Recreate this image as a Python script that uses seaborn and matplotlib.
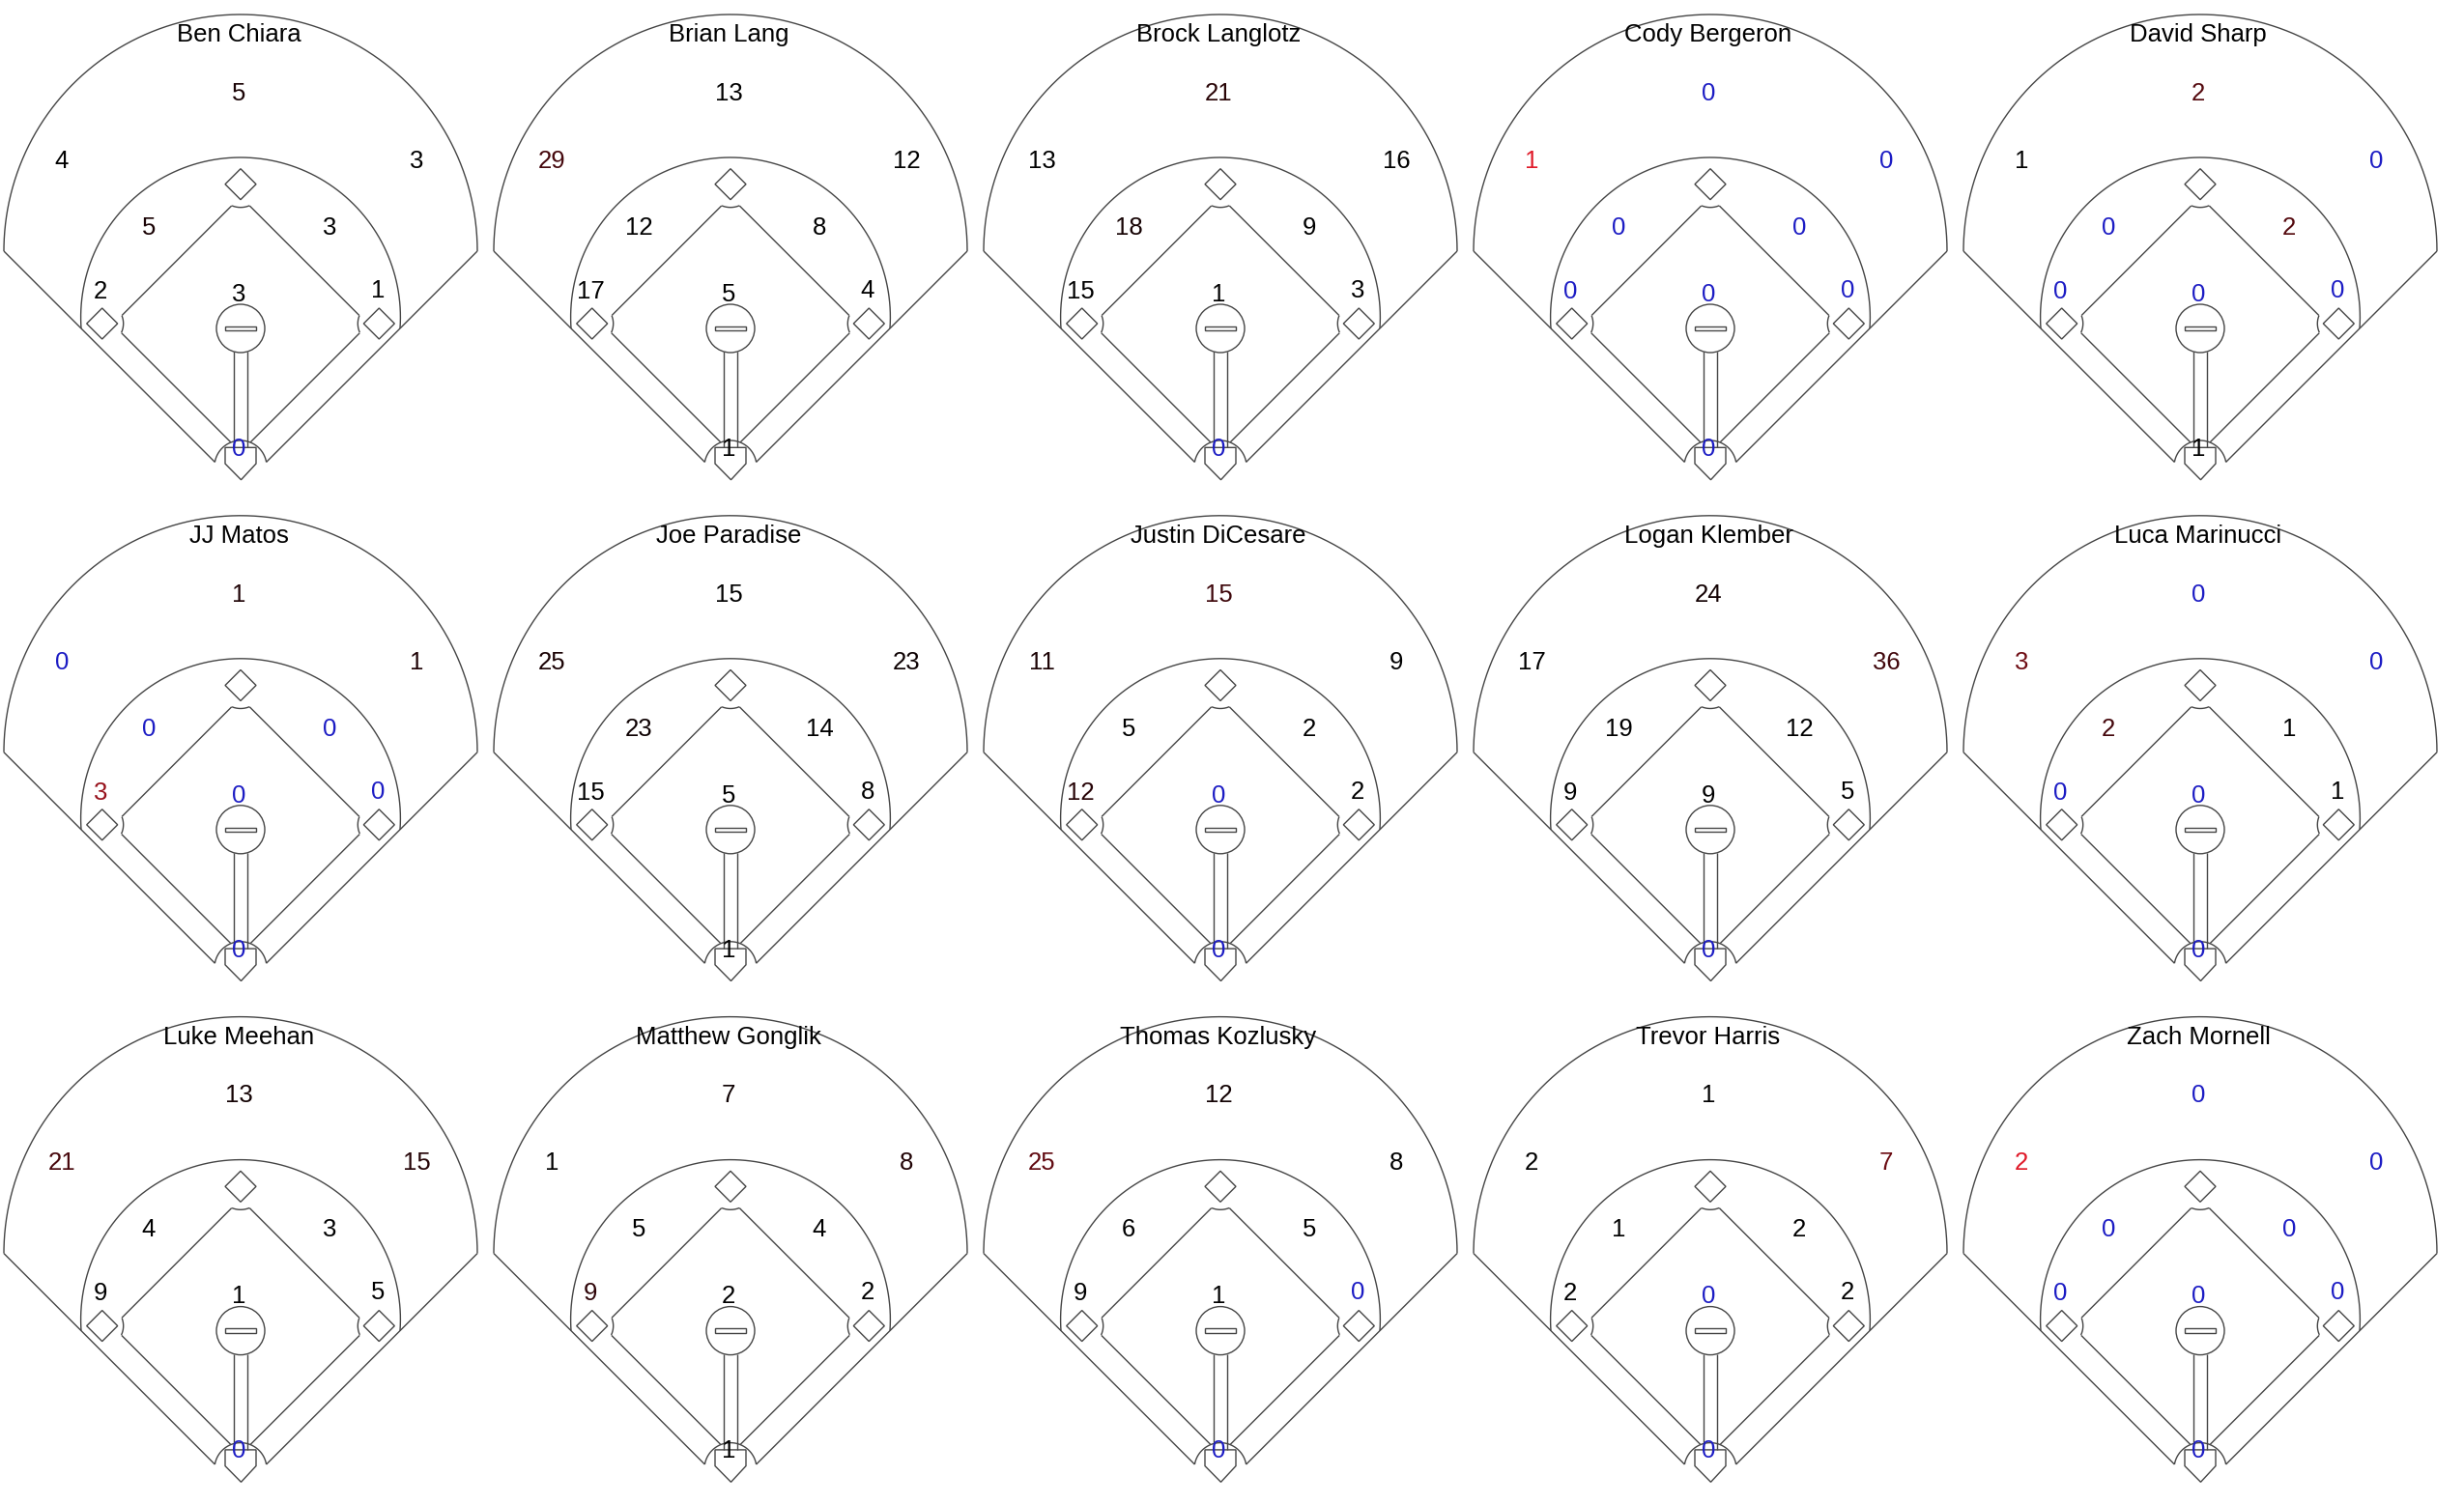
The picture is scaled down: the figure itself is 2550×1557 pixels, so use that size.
import numpy as np
import pandas as pd
import matplotlib.pyplot as plt
import seaborn as sns
from matplotlib.patches import Polygon, Circle, Rectangle


players = ["Ben Chiara", "Brian Lang", "Brock Langlotz", "Cody Bergeron", "David Sharp",
           "JJ Matos", "Joe Paradise", "Justin DiCesare", "Logan Klember", "Luca Marinucci",
           "Luke Meehan", "Matthew Gonglik", "Thomas Kozlusky", "Trevor Harris", "Zach Mornell"]

# hits per zone, same order as players
lf = [4, 29, 13, 1, 1, 0, 25, 11, 17, 3, 21, 1, 25, 2, 2]
cf = [5, 13, 21, 0, 2, 1, 15, 15, 24, 0, 13, 7, 12, 1, 0]
rf = [3, 12, 16, 0, 0, 1, 23, 9, 36, 0, 15, 8, 8, 7, 0]
ss = [5, 12, 18, 0, 0, 0, 23, 5, 19, 2, 4, 5, 6, 1, 0]
second = [3, 8, 9, 0, 2, 0, 14, 2, 12, 1, 3, 4, 5, 2, 0]
third = [2, 17, 15, 0, 0, 3, 15, 12, 9, 0, 9, 9, 9, 2, 0]
first = [1, 4, 3, 0, 0, 0, 8, 2, 5, 1, 5, 2, 0, 2, 0]
pitcher = [3, 5, 1, 0, 0, 0, 5, 0, 9, 0, 1, 2, 1, 0, 0]
catcher = [0, 1, 0, 0, 1, 0, 1, 0, 0, 0, 0, 1, 0, 0, 0]

data = pd.DataFrame({"player": players, "lf": lf, "cf": cf, "rf": rf, "ss": ss,
                     "second": second, "third": third, "first": first,
                     "pitcher": pitcher, "catcher": catcher})
zones = ["lf", "cf", "rf", "ss", "second", "third", "first", "pitcher", "catcher"]
data["total"] = data[zones].sum(axis=1)

# where the number of each zone sits on the field (home plate = 0,0, y up)
label_pos = {"lf": (-185, 335), "cf": (-2, 405), "rf": (182, 335),
             "ss": (-95, 266), "second": (92, 266), "third": (-145, 200),
             "first": (142, 201), "pitcher": (-2, 197), "catcher": (-2, 37)}

LINE = "#454545"
LW = 1.0
FS = 18.5

sns.set_theme(style="white")
plt.rcParams["font.family"] = ["Liberation Sans", "DejaVu Sans"]


def num_color(v, total):
    # 0 -> blue, otherwise black -> red by share of the player's hits
    if v == 0:
        return "#1c1cc4"
    f = v / total
    g = np.clip((f - 0.17) / 0.83, 0, 1) ** 0.6
    return (0.88 * g, 0.1 * g, 0.16 * g)


def draw_field(ax, cx, cy):
    def T(x, y):
        return cx + np.asarray(x, dtype=float), cy - np.asarray(y, dtype=float)

    def line(x, y):
        X, Y = T(x, y)
        ax.plot(X, Y, color=LINE, lw=LW, solid_capstyle="butt")

    # outfield fence
    th = np.linspace(0, np.pi, 300)
    line(245 * np.cos(th), 240 + 245 * np.sin(th))
    # foul lines
    line([-245, -26.6], [240, 21.6])
    line([245, 26.6], [240, 21.6])
    # home circle
    th = np.radians(np.linspace(9.8, 170.2, 80))
    line(27 * np.cos(th), 17 + 27 * np.sin(th))
    # infield arc
    th = np.radians(np.linspace(-4, 184, 300))
    line(165.4 * np.cos(th), 171.6 + 165.4 * np.sin(th))

    # grass square with notches at the bases
    notches = [(-143.3, 165, 22), (143.3, 165, 22), (0, 309.3, 24), (0, 17, 27)]
    corners = np.array([(0, 32), (132.15, 164.15), (0, 296.3), (-132.15, 164.15), (0, 32)])
    gx, gy = [], []
    for a, b in zip(corners[:-1], corners[1:]):
        t = np.linspace(0, 1, 400)
        gx.append(a[0] + (b[0] - a[0]) * t)
        gy.append(a[1] + (b[1] - a[1]) * t)
    gx = np.concatenate(gx)
    gy = np.concatenate(gy)
    inside = np.zeros_like(gx, dtype=bool)
    for nx, ny, r in notches:
        inside |= (gx - nx) ** 2 + (gy - ny) ** 2 < r ** 2
    gx[inside] = np.nan
    gy[inside] = np.nan
    line(gx, gy)
    for nx, ny, r in notches[:3]:
        th = np.linspace(0, 2 * np.pi, 400)
        px = nx + r * np.cos(th)
        py = ny + r * np.sin(th)
        keep = (py > np.abs(px) + 32) & (py < 296.3 - np.abs(px))
        px[~keep] = np.nan
        py[~keep] = np.nan
        # roll so the kept arc is one piece
        k = np.argmax(~keep)
        line(np.roll(px, -k), np.roll(py, -k))

    # bases
    for bx, by in [(-143.3, 165), (143.3, 165), (0, 309.3)]:
        X, Y = T([bx - 16, bx, bx + 16, bx], [by, by + 16, by, by - 16])
        ax.add_patch(Polygon(np.column_stack([X, Y]), closed=True, fc="white", ec=LINE, lw=LW))

    # pitcher's lane and mound
    line([-7.3, -7.3], [136.1, 36.7])
    line([7.3, 7.3], [136.1, 36.7])
    X, Y = T(0, 160)
    ax.add_patch(Circle((X, Y), 25, fc="white", ec=LINE, lw=LW))
    X, Y = T(-15.7, 162.3)
    ax.add_patch(Rectangle((X, Y), 31.4, 4.6, fc="white", ec=LINE, lw=LW))

    # home plate
    X, Y = T([-16, 16, 16, 0.5, -16], [36.7, 36.7, 20, 3.3, 20])
    ax.add_patch(Polygon(np.column_stack([X, Y]), closed=True, fc="white", ec=LINE, lw=LW))


fig = plt.figure(figsize=(25.5, 15.57), dpi=100)
ax = fig.add_axes([0, 0, 1, 1])
ax.set_xlim(0, 2550)
ax.set_ylim(1557, 0)
ax.axis("off")

for i, row in data.iterrows():
    cx = 249 + 507 * (i % 5)
    cy = 500 + 518.8 * (i // 5)
    draw_field(ax, cx, cy)
    ax.text(cx - 2, cy - 456.7, row["player"], ha="center", va="baseline",
            fontsize=FS, color="black", zorder=5)
    for z in zones:
        x, y = label_pos[z]
        v = int(row[z])
        ax.text(cx + x, cy - (y - 8.8), str(v), ha="center", va="baseline",
                fontsize=FS, color=num_color(v, row["total"]), zorder=5)

fig.savefig("out.png", dpi=100, facecolor="white")
